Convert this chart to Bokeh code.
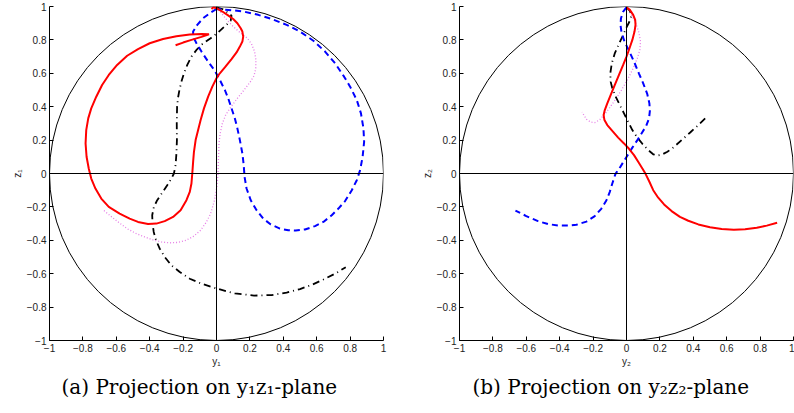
from bokeh.plotting import figure
from bokeh.models import Range1d, FixedTicker, Span, Title
from bokeh.layouts import row
from bokeh.embed import file_html
from bokeh.resources import INLINE

# ---------------- data ----------------
ticks = [-1, -0.8, -0.6, -0.4, -0.2, 0, 0.2, 0.4, 0.6, 0.8, 1]
tick_labels = ["\u22121", "\u22120.8", "\u22120.6", "\u22120.4", "\u22120.2", "0",
               "0.2", "0.4", "0.6", "0.8", "1"]

# unit circle (center and diameter)
circle_x = [0]
circle_y = [0]
circle_d = [2]

# (a) y1 z1 plane
y1_red = [-0.03, -0.02, 0.0, 0.035, 0.065, 0.1, 0.125, 0.145, 0.155, 0.16, 0.155, 0.14, 0.12,
          0.09, 0.05, 0.02, 0.0, -0.025, -0.05, -0.075, -0.095, -0.11, -0.125, -0.135, -0.14,
          -0.145, -0.15, -0.16, -0.18, -0.215, -0.26, -0.31, -0.36, -0.41, -0.47, -0.52,
          -0.58, -0.645, -0.69, -0.725, -0.75, -0.765, -0.778, -0.784, -0.78, -0.768, -0.75,
          -0.72, -0.685, -0.645, -0.595, -0.535, -0.47, -0.40, -0.32, -0.24, -0.16, -0.09,
          -0.045, -0.09, -0.15, -0.2, -0.245]
z1_red = [0.985, 0.995, 0.99, 0.97, 0.95, 0.925, 0.90, 0.87, 0.85, 0.82, 0.79, 0.76, 0.725,
          0.685, 0.635, 0.60, 0.57, 0.52, 0.46, 0.39, 0.32, 0.26, 0.20, 0.13, 0.07,
          0.0, -0.06, -0.11, -0.16, -0.22, -0.26, -0.285, -0.30, -0.302, -0.29, -0.27,
          -0.24, -0.20, -0.15, -0.09, -0.03, 0.03, 0.10, 0.18, 0.26, 0.33, 0.39,
          0.46, 0.53, 0.59, 0.65, 0.705, 0.745, 0.78, 0.805, 0.822, 0.832, 0.836,
          0.834, 0.818, 0.80, 0.784, 0.768]

y1_blue = [0.0, -0.04, -0.08, -0.115, -0.14, -0.14, -0.12, -0.09, -0.05, -0.01, 0.02, 0.05,
           0.07, 0.09, 0.11, 0.125, 0.14, 0.155, 0.163, 0.168, 0.18, 0.205, 0.24, 0.28,
           0.325, 0.38, 0.43, 0.474, 0.53, 0.59, 0.64, 0.69, 0.73, 0.77, 0.81, 0.84, 0.86,
           0.875, 0.884, 0.88, 0.865, 0.84, 0.80, 0.764, 0.71, 0.65, 0.58, 0.50, 0.42, 0.33,
           0.25, 0.17, 0.10, 0.04, 0.0]
z1_blue = [0.985, 0.96, 0.93, 0.89, 0.85, 0.82, 0.78, 0.73, 0.67, 0.615, 0.56, 0.50,
           0.45, 0.39, 0.33, 0.27, 0.20, 0.12, 0.05, -0.02, -0.09, -0.16, -0.22, -0.27,
           -0.305, -0.33, -0.34, -0.342, -0.335, -0.315, -0.29, -0.25, -0.21, -0.165, -0.10,
           -0.04, 0.02, 0.10, 0.19, 0.27, 0.36, 0.44, 0.52, 0.58, 0.66, 0.73, 0.795, 0.85,
           0.89, 0.925, 0.95, 0.968, 0.977, 0.982, 0.985]

y1_black = [0.0, 0.035, 0.065, 0.09, 0.085, 0.055, 0.015, -0.035, -0.085, -0.12, -0.15,
            -0.175, -0.195, -0.21, -0.222, -0.231, -0.236, -0.238, -0.237, -0.24, -0.245,
            -0.255, -0.27, -0.295, -0.325, -0.355, -0.375, -0.385, -0.383, -0.376, -0.362,
            -0.34, -0.31, -0.27, -0.22, -0.16, -0.09, 0.005, 0.11, 0.225, 0.33, 0.42, 0.50,
            0.57, 0.64, 0.71, 0.774]
z1_black = [0.995, 0.985, 0.966, 0.945, 0.915, 0.886, 0.85, 0.81, 0.775, 0.74, 0.70,
            0.65, 0.60, 0.55, 0.50, 0.45, 0.40, 0.30, 0.20, 0.12, 0.05,
            0.0, -0.03, -0.07, -0.115, -0.16, -0.20, -0.25, -0.30, -0.35, -0.40,
            -0.45, -0.50, -0.55, -0.59, -0.63, -0.66, -0.69, -0.718, -0.731, -0.728, -0.713,
            -0.692, -0.667, -0.635, -0.60, -0.561]

y1_pink = [0.0, 0.03, 0.065, 0.10, 0.14, 0.185, 0.21, 0.228, 0.236, 0.235, 0.225, 0.20,
           0.165, 0.125, 0.085, 0.055, 0.035, 0.022, 0.015, 0.012, 0.009, 0.002, -0.012,
           -0.035, -0.06, -0.095, -0.14, -0.185, -0.235, -0.28, -0.33, -0.38, -0.43, -0.48,
           -0.534, -0.60, -0.674]
z1_pink = [0.995, 0.96, 0.916, 0.88, 0.845, 0.81, 0.775, 0.73, 0.68, 0.63, 0.585, 0.545,
           0.50, 0.45, 0.397, 0.35, 0.30, 0.24, 0.18, 0.10, 0.0, -0.08, -0.16,
           -0.24, -0.29, -0.34, -0.378, -0.401, -0.413, -0.415, -0.41, -0.398, -0.38, -0.36,
           -0.331, -0.282, -0.222]

# (b) y2 z2 plane
y2_red = [0.0, 0.02, 0.04, 0.052, 0.054, 0.048, 0.035, 0.018, 0.0, -0.02, -0.045, -0.07,
          -0.095, -0.115, -0.13, -0.137, -0.132, -0.115, -0.085, -0.05, -0.015, 0.015, 0.045,
          0.07, 0.095, 0.114, 0.135, 0.16, 0.19, 0.225, 0.27, 0.32, 0.37, 0.43, 0.50, 0.57,
          0.643, 0.71, 0.78, 0.84, 0.902]
z2_red = [0.995, 0.98, 0.95, 0.92, 0.89, 0.85, 0.80, 0.75, 0.70, 0.65, 0.59, 0.53,
          0.47, 0.42, 0.38, 0.35, 0.32, 0.29, 0.255, 0.215, 0.18, 0.148, 0.11,
          0.07, 0.03, -0.002, -0.045, -0.10, -0.145, -0.185, -0.225, -0.26, -0.283, -0.305,
          -0.322, -0.333, -0.337, -0.334, -0.325, -0.312, -0.295]

y2_blue = [0.0, -0.02, -0.033, -0.036, -0.03, -0.012, 0.014, 0.045, 0.074, 0.10, 0.124,
           0.137, 0.14, 0.135, 0.118, 0.09, 0.064, 0.035, 0.01, -0.015, -0.04, -0.066,
           -0.085, -0.10, -0.12, -0.15, -0.19, -0.24, -0.30, -0.35, -0.41, -0.47, -0.53,
           -0.60, -0.665]
z2_blue = [0.995, 0.97, 0.93, 0.89, 0.845, 0.79, 0.737, 0.67, 0.60, 0.54, 0.477,
           0.42, 0.375, 0.33, 0.285, 0.24, 0.198, 0.155, 0.115, 0.075, 0.035, -0.002,
           -0.06, -0.11, -0.16, -0.21, -0.255, -0.288, -0.307, -0.312, -0.311, -0.303, -0.285,
           -0.255, -0.222]

y2_black = [0.0, 0.02, 0.03, 0.018, 0.0, -0.026, -0.05, -0.07, -0.088, -0.097, -0.095,
            -0.085, -0.065, -0.04, -0.015, 0.01, 0.035, 0.065, 0.095, 0.13, 0.16, 0.184,
            0.21, 0.245, 0.283, 0.33, 0.383, 0.435, 0.483]
z2_black = [0.995, 0.975, 0.945, 0.91, 0.875, 0.817, 0.765, 0.72, 0.66, 0.60, 0.55,
            0.51, 0.46, 0.41, 0.36, 0.31, 0.26, 0.215, 0.178, 0.14, 0.115, 0.108,
            0.112, 0.13, 0.158, 0.20, 0.247, 0.295, 0.341]

y2_pink = [0.0, 0.03, 0.058, 0.074, 0.084, 0.08, 0.065, 0.04, 0.005, -0.03, -0.065, -0.10,
           -0.13, -0.16, -0.19, -0.215, -0.24, -0.266]
z2_pink = [0.995, 0.95, 0.895, 0.845, 0.79, 0.74, 0.69, 0.63, 0.56, 0.50, 0.445, 0.395,
           0.355, 0.322, 0.305, 0.308, 0.325, 0.367]

captions = ["(a) Projection on y\u2081z\u2081-plane", "(b) Projection on y\u2082z\u2082-plane"]
xlabels = ["y\u2081", "y\u2082"]
ylabels = ["z\u2081", "z\u2082"]

RED = "#ff0000"
BLUE = "#0000ff"
BLACK = "#000000"
PINK = "#e67ee6"
TICK_FONT = "Liberation Sans"


def make_panel(ys, zs, xlabel, ylabel, caption, border_l, border_r, cap_offset):
    p = figure(output_backend="svg", toolbar_location=None,
               frame_width=334, frame_height=334,
               min_border_left=border_l, min_border_right=border_r,
               min_border_top=6, min_border_bottom=72,
               x_range=Range1d(-1, 1), y_range=Range1d(-1, 1),
               background_fill_color="white", border_fill_color="white")
    p.outline_line_color = None
    p.grid.visible = False
    for ax in (p.xaxis[0], p.yaxis[0]):
        ax.ticker = FixedTicker(ticks=ticks)
        ax.major_label_overrides = {t: s for t, s in zip(ticks, tick_labels)}
        ax.major_tick_in = 4
        ax.major_tick_out = 0
        ax.minor_tick_line_color = None
        ax.axis_line_color = "black"
        ax.major_tick_line_color = "black"
        ax.major_label_text_font = TICK_FONT
        ax.major_label_text_font_size = "10px"
        ax.major_label_text_color = "#222222"
        ax.axis_label_text_font = TICK_FONT
        ax.axis_label_text_font_size = "10px"
        ax.axis_label_text_font_style = "normal"
        ax.axis_label_text_color = "#222222"
        ax.major_label_standoff = 3
        ax.axis_label_standoff = 1
    p.xaxis.axis_label = xlabel
    p.yaxis.axis_label = ylabel

    p.ellipse(x=circle_x, y=circle_y, width=circle_d, height=circle_d,
              fill_color=None, line_color="black", line_width=1)
    p.add_layout(Span(location=0, dimension="width", line_color="black", line_width=1))
    p.add_layout(Span(location=0, dimension="height", line_color="black", line_width=1))

    (yr, zr), (yb, zb), (yk, zk), (yp, zp) = zip(ys, zs)
    p.line(yp, zp, line_color=PINK, line_width=1.3, line_dash="1 2")
    p.line(yk, zk, line_color=BLACK, line_width=1.8, line_dash="7 4 1 4")
    p.line(yb, zb, line_color=BLUE, line_width=2, line_dash="6 4")
    p.line(yr, zr, line_color=RED, line_width=2)

    p.add_layout(Title(text=caption, align="left", offset=cap_offset,
                       text_font="DejaVu Serif", text_font_size="20px",
                       text_font_style="normal", text_color="black", standoff=6), "below")
    return p


p1 = make_panel([y1_red, y1_blue, y1_black, y1_pink], [z1_red, z1_blue, z1_black, z1_pink],
                xlabels[0], ylabels[0], captions[0], 49, 17, 12)
p2 = make_panel([y2_red, y2_blue, y2_black, y2_pink], [z2_red, z2_blue, z2_black, z2_pink],
                xlabels[1], ylabels[1], captions[1], 59, 1, 13)

layout = row(p1, p2, spacing=0)
open("out.html", "w").write(file_html(layout, INLINE))
